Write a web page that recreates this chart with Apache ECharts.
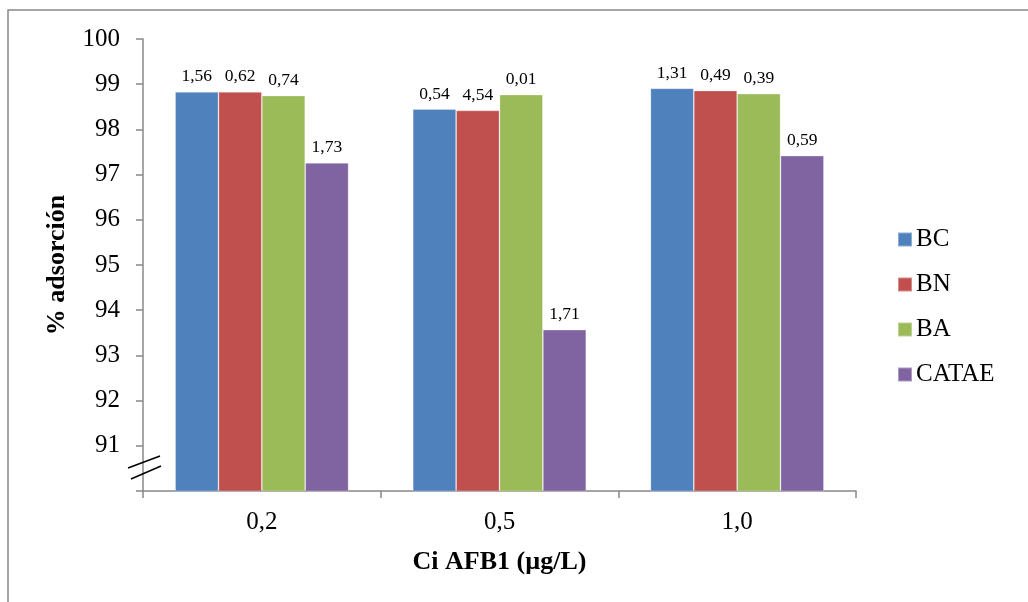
<!DOCTYPE html>
<html><head><meta charset="utf-8">
<script src="https://cdn.jsdelivr.net/npm/echarts@6/dist/echarts.min.js"></script>
<style>html,body{margin:0;padding:0;background:#fff}#c{width:1028px;height:602px}</style>
</head><body><div id="c"></div>
<script>
var categories = ['0,2', '0,5', '1,0'];
var seriesNames = ['BC', 'BN', 'BA', 'CATAE'];
var BC = [98.83, 98.45, 98.91];
var BN = [98.83, 98.42, 98.86];
var BA = [98.75, 98.77, 98.79];
var CATAE = [97.26, 93.57, 97.42];
var BC_labels = ['1,56', '0,54', '1,31'];
var BN_labels = ['0,62', '4,54', '0,49'];
var BA_labels = ['0,74', '0,01', '0,39'];
var CATAE_labels = ['1,73', '1,71', '0,59'];
var yTicks = [91, 92, 93, 94, 95, 96, 97, 98, 99, 100];

var colors = ['#4F81BD', '#C0504D', '#9BBB59', '#8064A2'];
var values = [BC, BN, BA, CATAE];
var labels = [BC_labels, BN_labels, BA_labels, CATAE_labels];
var font = '"Liberation Serif", "Times New Roman", serif';

var chart = echarts.init(document.getElementById('c'));
var series = seriesNames.map(function (n, i) {
  return {
    name: n, type: 'bar', data: values[i],
    barGap: '0%', barCategoryGap: '27%',
    itemStyle: { color: colors[i], borderColor: 'rgba(255,255,255,0.35)', borderWidth: 0.8 },
    label: {
      show: true, position: 'top', distance: 6,
      fontFamily: font, fontSize: 17.5, color: '#000',
      formatter: function (p) { return labels[i][p.dataIndex]; }
    }
  };
});
chart.setOption({
  animation: false,
  backgroundColor: '#fff',
  textStyle: { fontFamily: font },
  grid: { left: 143, right: 172, top: 39, bottom: 111 },
  legend: {
    data: seriesNames, orient: 'vertical', left: 897, top: 227, padding: 0,
    itemWidth: 14, itemHeight: 14, itemGap: 20,
    icon: 'rect',
    textStyle: { fontFamily: font, fontSize: 25, color: '#000', padding: [0, 0, 0, -1] }
  },
  xAxis: {
    type: 'category', data: categories,
    name: 'Ci AFB1 (µg/L)', nameLocation: 'middle', nameGap: 58,
    nameTextStyle: { fontFamily: font, fontSize: 26, fontWeight: 'bold', color: '#000' },
    axisLine: { lineStyle: { color: '#888', width: 1.5 } },
    axisTick: { show: true, length: 7, lineStyle: { color: '#888', width: 1.5 } },
    axisLabel: { fontFamily: font, fontSize: 25, color: '#000', margin: 19 }
  },
  yAxis: {
    type: 'value', min: 90, max: 100, interval: 1,
    name: '% adsorción', nameLocation: 'middle', nameGap: 73, nameRotate: 90,
    nameTextStyle: { fontFamily: font, fontSize: 26, fontWeight: 'bold', color: '#000' },
    axisLine: { show: true, lineStyle: { color: '#888', width: 1.5 } },
    axisTick: { show: true, length: 7, inside: false, lineStyle: { color: '#888', width: 1.5 } },
    splitLine: { show: false },
    axisLabel: {
      fontFamily: font, fontSize: 25, color: '#000', margin: 23,
      formatter: function (v) { return yTicks.indexOf(v) >= 0 ? String(v) : ''; }
    }
  },
  graphic: [
    { type: 'rect', shape: { x: 8, y: 10, width: 1100, height: 700 }, style: { fill: null, stroke: '#888', lineWidth: 1.5 }, z: 100 },
    { type: 'line', shape: { x1: 128, y1: 468, x2: 160, y2: 456 }, style: { stroke: '#000', lineWidth: 1.5 }, z: 100 },
    { type: 'line', shape: { x1: 131, y1: 479, x2: 161, y2: 466 }, style: { stroke: '#000', lineWidth: 1.5 }, z: 100 }
  ],
  series: series
});
</script></body></html>
